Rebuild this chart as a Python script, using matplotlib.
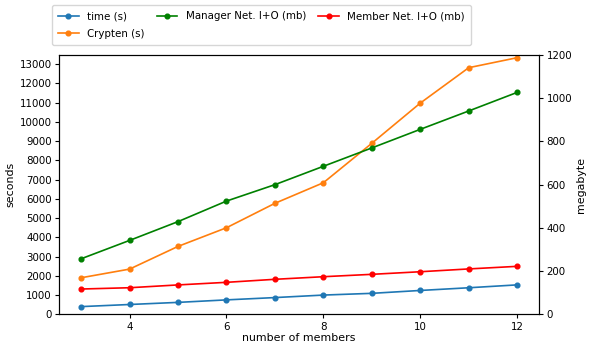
import matplotlib
matplotlib.use("Agg")
import matplotlib.pyplot as plt

members = [3, 4, 5, 6, 7, 8, 9, 10, 11, 12]
time_s = [400, 510, 620, 750, 870, 1000, 1090, 1240, 1380, 1530]
crypten_s = [1900, 2350, 3530, 4500, 5770, 6840, 8890, 10980, 12820, 13340]
manager_mb = [257, 342, 429, 524, 600, 685, 770, 856, 941, 1027]
member_mb = [117, 123, 136, 148, 162, 174, 185, 197, 210, 222]

fs = 7.4
afs = 7.9
lfs = 7.4
plt.rcParams['font.size'] = fs

fig = plt.figure(figsize=(5.98, 3.49), dpi=100)
ax = fig.add_axes([0.0992, 0.0994, 0.9013 - 0.0992, 0.8424 - 0.0994])
ax2 = ax.twinx()

ms = 3.4
lw = 1.2
l1, = ax.plot(members, time_s, marker='o', color='C0', ms=ms, lw=lw, label='time (s)')
l2, = ax.plot(members, crypten_s, marker='o', color='C1', ms=ms, lw=lw, label='Crypten (s)')
l3, = ax2.plot(members, manager_mb, marker='o', color='green', ms=ms, lw=lw, label='Manager Net. I+O (mb)')
l4, = ax2.plot(members, member_mb, marker='o', color='red', ms=ms, lw=lw, label='Member Net. I+O (mb)')

ax.set_ylim(0, 13480)
ax.set_yticks(range(0, 13001, 1000))
ax2.set_ylim(0, 1200)
ax2.set_yticks(range(0, 1201, 200))
ax.set_xticks([4, 6, 8, 10, 12])
ax.set_xlabel('number of members', fontsize=afs, labelpad=1)
ax.set_ylabel('seconds', fontsize=afs, labelpad=3)
ax2.set_ylabel('megabyte', fontsize=afs, labelpad=3)
for a in (ax, ax2):
    a.tick_params(labelsize=fs, length=3, pad=2.5)
    for s in a.spines.values():
        s.set_linewidth(0.8)

fig.legend(handles=[l1, l2, l3, l4], ncol=3, loc='upper left',
           bbox_to_anchor=(52 / 598, 1 - 5 / 349), borderaxespad=0,
           fontsize=lfs, columnspacing=1.2, handlelength=2.0,
           labelspacing=0.75, borderpad=0.6)

fig.savefig('out.png', dpi=100)
